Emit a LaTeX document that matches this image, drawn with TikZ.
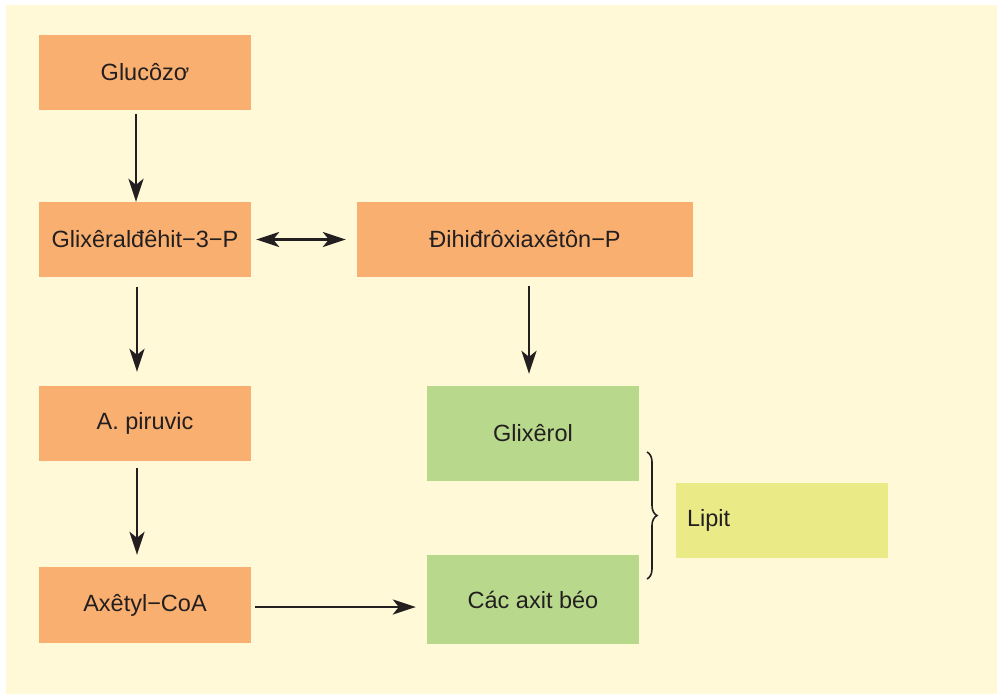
\documentclass[tikz,border=0pt]{standalone}
\usepackage{fontspec}
\setmainfont{Liberation Sans}
\usetikzlibrary{arrows.meta,decorations.pathreplacing}
\definecolor{bgc}{HTML}{FFF9D7}
\definecolor{orangec}{HTML}{F9AF6F}
\definecolor{greenc}{HTML}{B8D98B}
\definecolor{yellowc}{HTML}{EAEA86}
\definecolor{txt}{HTML}{231F20}
\begin{document}
\begin{tikzpicture}[x=1pt,y=-1pt,
  box/.style={inner sep=0pt, text=txt, font=\fontsize{23.5}{28}\selectfont},
  obox/.style={box, fill=orangec, minimum width=212pt, minimum height=75pt},
  gbox/.style={box, fill=greenc, minimum width=212pt},
  arr/.style={draw=txt, line width=2.5pt, -{Stealth[length=23pt,width=15pt,inset=6pt]}},
  darr/.style={draw=txt, line width=2.5pt, {Stealth[length=23pt,width=15pt,inset=6pt]}-{Stealth[length=23pt,width=15pt,inset=6pt]}}
]
\useasboundingbox (0,0) rectangle (997,694);
\fill[bgc] (6,5) rectangle (997,694);

\node[obox] (gluc) at (145,72.5) {Glucôzơ};
\node[obox] (glix) at (145,239.5) {Glixêralđêhit−3−P};
\node[obox, minimum width=336pt] (dihi) at (525,239.5) {Đihiđrôxiaxêtôn−P};
\node[obox] (piru) at (145,423.5) {A. piruvic};
\node[obox, minimum height=76pt] (axet) at (145,605) {Axêtyl−CoA};
\node[gbox, minimum height=95pt] (glixerol) at (533,433.5) {Glixêrol};
\node[gbox, minimum height=89pt] (axit) at (533,599.5) {Các axit béo};
\node[box, fill=yellowc, minimum width=212pt, minimum height=75pt, text width=190pt, align=left, inner xsep=11pt] (lipit) at (782,520.5) {Lipit};

\draw[arr] ([xshift=-9pt,yshift=-4pt]gluc.south) -- ([xshift=-9pt]glix.north);
\draw[arr] ([xshift=-8pt,yshift=-10pt]glix.south) -- ([xshift=-8pt,yshift=14pt]piru.north);
\draw[arr] ([xshift=-8pt,yshift=-7pt]piru.south) -- ([xshift=-8pt,yshift=12pt]axet.north);
\draw[darr] ([xshift=5pt]glix.east) -- ([xshift=-11pt]dihi.west);
\draw[arr] ([xshift=4pt,yshift=-9pt]dihi.south) -- ([xshift=-4pt,yshift=12pt]glixerol.north);
\draw[arr] ([xshift=4pt,yshift=-2pt]axet.east) -- ([xshift=-11pt,yshift=-7.5pt]axit.west);

\coordinate (bt) at (647,452);
\coordinate (bb) at (647,579);
\draw[txt, line width=1.6pt, decorate, decoration={brace, amplitude=10pt}] (bt) -- (bb);
\end{tikzpicture}
\end{document}
